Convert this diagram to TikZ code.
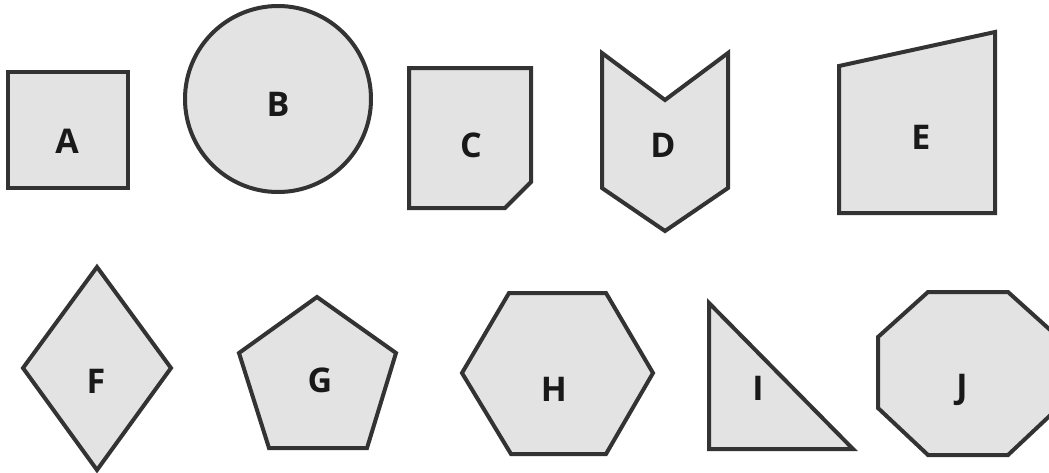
\documentclass[tikz,border=0pt]{standalone}
\usepackage{fontspec}
\setmainfont{Open Sans}
\definecolor{shapefill}{HTML}{E3E3E3}
\definecolor{shapeline}{HTML}{333333}
\begin{document}
\begin{tikzpicture}[x=1pt,y=-1pt,
  shp/.style={fill=shapefill,draw=shapeline,line width=4pt,line join=miter},
  lbl/.style={font=\fontsize{34}{34}\selectfont\bfseries,text=black!90,inner sep=0pt,text height=24pt,text depth=0pt,anchor=center}]
\useasboundingbox[fill=white] (0,0) rectangle (1049,472);
% A
\draw[shp] (8,72) rectangle (128,188);
\node[lbl] (la) at (67,141) {A};
% B
\draw[shp] (278,99) circle (93);
\node[lbl] (lb) at (278,104) {B};
% C
\draw[shp] (409,68) -- (531,68) -- (531,182) -- (505,208) -- (409,208) -- cycle;
\node[lbl] (lc) at (471,145) {C};
% D
\draw[shp] (602,53) -- (665,100) -- (728,53) -- (728,188) -- (665,231) -- (602,188) -- cycle;
\node[lbl] (ld) at (663,145) {D};
% E
\draw[shp] (839,66) -- (995,32) -- (995,213) -- (839,213) -- cycle;
\node[lbl] (le) at (921,137) {E};
% F
\draw[shp] (97,267) -- (171,368) -- (97,470) -- (23,368) -- cycle;
\node[lbl] (lf) at (96,381) {F};
% G
\draw[shp] (317,297) -- (396,353) -- (367,448) -- (269,448) -- (239,353) -- cycle;
\node[lbl] (lg) at (320,380) {G};
% H
\draw[shp] (509,293) -- (606,293) -- (653,373) -- (606,454) -- (511,454) -- (462,373) -- cycle;
\node[lbl] (lh) at (554,389) {H};
% I
\draw[shp] (709,303) -- (853,449) -- (709,449) -- cycle;
\node[lbl] (li) at (758,388) {I};
% J
\draw[shp] (928,292) -- (1008,292) -- (1058,337) -- (1058,408) -- (1008,455) -- (928,455) -- (878,408) -- (878,337) -- cycle;
\node[lbl] (lj) at (962,386) {J};
\end{tikzpicture}
\end{document}
